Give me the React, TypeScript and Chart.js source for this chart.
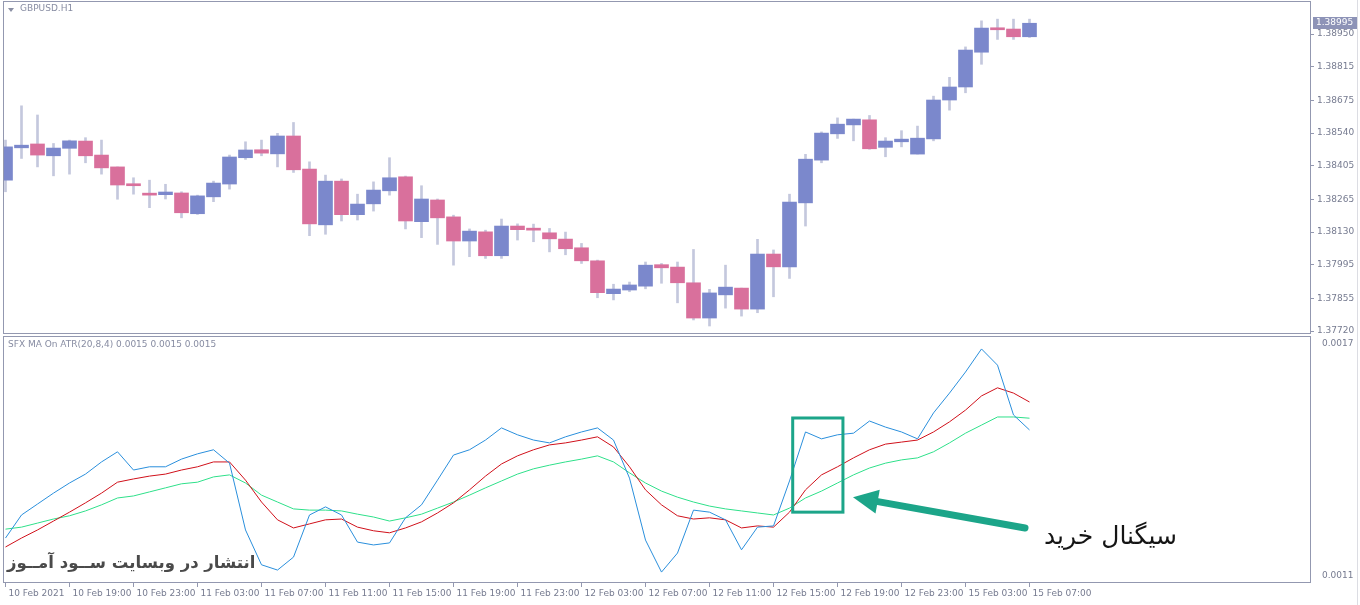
import React, { useEffect, useRef } from "react";
import { Chart, registerables } from "chart.js";

Chart.register(...registerables);

const symbolTitle = "GBPUSD.H1";
const indicatorTitle = "SFX MA On ATR(20,8,4) 0.0015 0.0015 0.0015";
const signalText = "سیگنال خرید";
const watermarkText = "انتشار در وبسایت ســود آمــوز";

const timeLabels = [
  "10 Feb 2021", "10 Feb 19:00", "10 Feb 23:00", "11 Feb 03:00", "11 Feb 07:00",
  "11 Feb 11:00", "11 Feb 15:00", "11 Feb 19:00", "11 Feb 23:00", "12 Feb 03:00",
  "12 Feb 07:00", "12 Feb 11:00", "12 Feb 15:00", "12 Feb 19:00", "12 Feb 23:00",
  "15 Feb 03:00", "15 Feb 07:00",
];

const opens = [
  1.38345, 1.38479, 1.38495, 1.38446, 1.38477, 1.38507, 1.38449, 1.38400, 1.38330, 1.38289,
  1.38285, 1.38292, 1.38206, 1.38276, 1.38329, 1.38438, 1.38471, 1.38454, 1.38528, 1.38391,
  1.38160, 1.38341, 1.38202, 1.38247, 1.38301, 1.38359, 1.38173, 1.38263, 1.38193, 1.38093,
  1.38131, 1.38032, 1.38155, 1.38146, 1.38127, 1.38101, 1.38065, 1.38011, 1.37875, 1.37890,
  1.37906, 1.37995, 1.37985, 1.37920, 1.37774, 1.37870, 1.37898, 1.37811, 1.38039, 1.37986,
  1.38251, 1.38428, 1.38537, 1.38574, 1.38595, 1.38481, 1.38504, 1.38453, 1.38516, 1.38677,
  1.38731, 1.38875, 1.38975, 1.38971, 1.38939,
];
const highs = [
  1.38511, 1.38653, 1.38615, 1.38497, 1.38511, 1.38521, 1.38511, 1.38400, 1.38355, 1.38345,
  1.38328, 1.38297, 1.38283, 1.38341, 1.38449, 1.38504, 1.38511, 1.38539, 1.38584, 1.38421,
  1.38366, 1.38350, 1.38287, 1.38338, 1.38438, 1.38362, 1.38322, 1.38267, 1.38200, 1.38143,
  1.38138, 1.38184, 1.38164, 1.38163, 1.38145, 1.38130, 1.38083, 1.38014, 1.37914, 1.37923,
  1.38006, 1.38000, 1.38006, 1.38058, 1.37893, 1.37993, 1.37898, 1.38100, 1.38056, 1.38287,
  1.38452, 1.38545, 1.38603, 1.38598, 1.38613, 1.38521, 1.38550, 1.38569, 1.38693, 1.38771,
  1.38897, 1.39005, 1.39012, 1.39012, 1.39012,
];
const lows = [
  1.38297, 1.38435, 1.38400, 1.38363, 1.38370, 1.38417, 1.38370, 1.38266, 1.38287, 1.38231,
  1.38267, 1.38189, 1.38203, 1.38256, 1.38308, 1.38431, 1.38446, 1.38400, 1.38377, 1.38115,
  1.38121, 1.38176, 1.38180, 1.38217, 1.38283, 1.38143, 1.38107, 1.38079, 1.37993, 1.38028,
  1.38021, 1.38021, 1.38097, 1.38090, 1.38048, 1.38036, 1.38000, 1.37858, 1.37849, 1.37883,
  1.37895, 1.37918, 1.37837, 1.37766, 1.37741, 1.37815, 1.37782, 1.37796, 1.37862, 1.37938,
  1.38155, 1.38417, 1.38518, 1.38508, 1.38473, 1.38442, 1.38483, 1.38453, 1.38508, 1.38635,
  1.38707, 1.38825, 1.38928, 1.38928, 1.38936,
];
const closes = [
  1.38483, 1.38490, 1.38449, 1.38478, 1.38508, 1.38446, 1.38396, 1.38325, 1.38322, 1.38283,
  1.38296, 1.38210, 1.38280, 1.38333, 1.38441, 1.38470, 1.38457, 1.38528, 1.38388, 1.38164,
  1.38341, 1.38202, 1.38246, 1.38304, 1.38355, 1.38176, 1.38267, 1.38189, 1.38093, 1.38134,
  1.38032, 1.38155, 1.38140, 1.38138, 1.38102, 1.38061, 1.38011, 1.37879, 1.37894, 1.37911,
  1.37993, 1.37982, 1.37920, 1.37774, 1.37878, 1.37902, 1.37811, 1.38039, 1.37986, 1.38254,
  1.38432, 1.38540, 1.38577, 1.38598, 1.38475, 1.38507, 1.38515, 1.38519, 1.38677, 1.38731,
  1.38884, 1.38975, 1.38968, 1.38939, 1.38995,
];

const priceTicks = [1.3772, 1.37855, 1.37995, 1.3813, 1.38265, 1.38405, 1.3854, 1.38675, 1.38815, 1.3895];

const atrLine = [
  0.001206, 0.001263, 0.00129, 0.001317, 0.001342, 0.001364, 0.001394, 0.001419, 0.001374, 0.001382,
  0.001382, 0.001401, 0.001414, 0.001424, 0.001391, 0.001226, 0.00114, 0.001127, 0.001159, 0.001263,
  0.001283, 0.001263, 0.001196, 0.001189, 0.001194, 0.001256, 0.001288, 0.001349, 0.001411, 0.001424,
  0.001448, 0.001478, 0.001461, 0.001448, 0.001441, 0.001456, 0.001468, 0.001478, 0.001448, 0.001354,
  0.001201, 0.001122, 0.001169, 0.001275, 0.00127, 0.001251, 0.001177, 0.001233, 0.001236, 0.001347,
  0.001468, 0.001451, 0.001461, 0.001465, 0.001495, 0.00148, 0.001468, 0.001451, 0.001515, 0.001564,
  0.001616, 0.001673, 0.001633, 0.00151, 0.001473,
];
const maFast = [
  0.001184, 0.001206, 0.001226, 0.001248, 0.00127, 0.001293, 0.001317, 0.001344, 0.001352, 0.001359,
  0.001364, 0.001374, 0.001382, 0.001394, 0.001394, 0.001349, 0.001295, 0.001251, 0.001231, 0.001241,
  0.001251, 0.001253, 0.001233, 0.001224, 0.001219, 0.001231, 0.001246, 0.001268, 0.001293, 0.001325,
  0.001359, 0.001389, 0.001409, 0.001424, 0.001436, 0.001441, 0.001448, 0.001456, 0.001431, 0.001382,
  0.001325, 0.001288, 0.001261, 0.001253, 0.001256, 0.001251, 0.001231, 0.001236, 0.001233, 0.00127,
  0.001325, 0.001362, 0.001382, 0.001404, 0.001424, 0.001438, 0.001443, 0.001448, 0.001468, 0.001493,
  0.001522, 0.001557, 0.001577, 0.001564, 0.001542,
];
const maSlow = [
  0.001228, 0.001233, 0.001243, 0.001253, 0.001261, 0.001273, 0.001288, 0.001305, 0.00131, 0.00132,
  0.00133, 0.00134, 0.001344, 0.001357, 0.001362, 0.001342, 0.001312, 0.001295, 0.001278, 0.001275,
  0.001275, 0.001273, 0.001265, 0.001258, 0.001248, 0.001256, 0.001265, 0.00128, 0.001295, 0.001312,
  0.00133, 0.001347, 0.001364, 0.001377, 0.001386, 0.001394, 0.001401, 0.001409, 0.001394, 0.001367,
  0.001342, 0.001322, 0.001307, 0.001295, 0.001285, 0.001278, 0.001273, 0.001268, 0.001263, 0.00128,
  0.001305, 0.001322, 0.001342, 0.001362, 0.001379, 0.001391, 0.001399, 0.001404, 0.001419, 0.001441,
  0.001465, 0.001485, 0.001505, 0.001505, 0.001502,
];
const indicatorTicks = [0.0011123, 0.0016852];

// annotation anchors, in bar-index / indicator-value units
const signalBox = { fromIndex: 49.2, toIndex: 52.34, top: 0.0015025, bottom: 0.00127 };
const signalArrow = { tailIndex: 63.72, tailValue: 0.001231, tipIndex: 52.97, tipValue: 0.001307 };

const X_MIN = -0.09375;
const X_MAX = 81.53125;
const P_MIN = 1.37712;
const P_MAX = 1.39083;
const I_MIN = 0.0010975;
const I_MAX = 0.0017025;

const FONT = "'DejaVu Sans', Tahoma, sans-serif";
const AXIS_COLOR = "#9398b0";
const TEXT_COLOR = "#767b90";
const BULL = "#7b88cc";
const BEAR = "#d9709c";
const WICK = "#c4c8dd";
const TEAL = "#1ca589";

const noPad = (s: any) => {
  s.paddingTop = 0;
  s.paddingBottom = 0;
  s.paddingLeft = 0;
  s.paddingRight = 0;
};

const framePlugin = {
  id: "frame",
  afterDraw(chart: any) {
    const { ctx, chartArea } = chart;
    ctx.save();
    ctx.strokeStyle = AXIS_COLOR;
    ctx.lineWidth = 1;
    ctx.strokeRect(
      Math.round(chartArea.left) - 0.5,
      Math.round(chartArea.top) - 0.5,
      Math.round(chartArea.right - chartArea.left) + 1,
      Math.round(chartArea.bottom - chartArea.top) + 1
    );
    ctx.restore();
  },
};

const lastPricePlugin = {
  id: "lastPrice",
  afterDraw(chart: any) {
    const { ctx, chartArea } = chart;
    const last = closes[closes.length - 1];
    const py = Math.round(chart.scales.y.getPixelForValue(last));
    ctx.save();
    ctx.fillStyle = "#8d93b7";
    ctx.fillRect(chartArea.right + 3, py - 6, 44, 12);
    ctx.fillStyle = "#ffffff";
    ctx.font = `9px ${FONT}`;
    ctx.textBaseline = "middle";
    ctx.fillText(last.toFixed(5), chartArea.right + 6, py);
    ctx.restore();
  },
};

const annotationPlugin = {
  id: "signal",
  afterDatasetsDraw(chart: any) {
    const { ctx } = chart;
    const xs = chart.scales.x;
    const ys = chart.scales.y;
    ctx.save();
    const x1 = xs.getPixelForValue(signalBox.fromIndex);
    const x2 = xs.getPixelForValue(signalBox.toIndex);
    const y1 = ys.getPixelForValue(signalBox.top);
    const y2 = ys.getPixelForValue(signalBox.bottom);
    ctx.strokeStyle = TEAL;
    ctx.lineWidth = 3;
    ctx.strokeRect(x1, y1, x2 - x1, y2 - y1);

    const tx = xs.getPixelForValue(signalArrow.tailIndex);
    const ty = ys.getPixelForValue(signalArrow.tailValue);
    const px = xs.getPixelForValue(signalArrow.tipIndex);
    const py = ys.getPixelForValue(signalArrow.tipValue);
    const ang = Math.atan2(py - ty, px - tx);
    const headLen = 25;
    const headW = 24;
    const bx = px - headLen * Math.cos(ang);
    const by = py - headLen * Math.sin(ang);
    ctx.strokeStyle = TEAL;
    ctx.fillStyle = TEAL;
    ctx.lineWidth = 7;
    ctx.lineCap = "round";
    ctx.beginPath();
    ctx.moveTo(tx, ty);
    ctx.lineTo(bx + 4 * Math.cos(ang), by + 4 * Math.sin(ang));
    ctx.stroke();
    const nx = -Math.sin(ang);
    const ny = Math.cos(ang);
    ctx.beginPath();
    ctx.moveTo(px, py);
    ctx.lineTo(bx + (nx * headW) / 2, by + (ny * headW) / 2);
    ctx.lineTo(bx - (nx * headW) / 2, by - (ny * headW) / 2);
    ctx.closePath();
    ctx.fill();
    ctx.restore();
  },
};

export default function App() {
  const topRef = useRef<HTMLCanvasElement | null>(null);
  const botRef = useRef<HTMLCanvasElement | null>(null);

  useEffect(() => {
    document.body.style.margin = "0";
    const idx = closes.map((_, i) => i);
    const bodyColors = idx.map((i) => (closes[i] >= opens[i] ? BULL : BEAR));

    const top = new Chart(topRef.current as HTMLCanvasElement, {
      type: "bar",
      data: {
        datasets: [
          {
            label: "body",
            data: idx.map((i) => ({ x: i, y: [opens[i], closes[i]] })) as any,
            backgroundColor: bodyColors,
            borderWidth: 0,
            barThickness: 14,
            minBarLength: 2,
            grouped: false,
            order: 0,
          } as any,
          {
            label: "wick",
            data: idx.map((i) => ({ x: i, y: [lows[i], highs[i]] })) as any,
            backgroundColor: WICK,
            borderWidth: 0,
            barThickness: 2,
            grouped: false,
            order: 1,
          } as any,
        ],
      },
      options: {
        responsive: false,
        animation: false,
        events: [],
        layout: { padding: { left: 4, top: 2, right: 0, bottom: 1 } },
        plugins: { legend: { display: false }, tooltip: { enabled: false } },
        scales: {
          x: { type: "linear", min: X_MIN, max: X_MAX, offset: false, display: false },
          y: {
            type: "linear",
            position: "right",
            min: P_MIN,
            max: P_MAX,
            bounds: "data",
            beginAtZero: false,
            afterFit: (s: any) => { s.width = 50; noPad(s); },
            afterBuildTicks: (s: any) => { s.ticks = priceTicks.map((v) => ({ value: v })); },
            ticks: {
              autoSkip: false,
              callback: (v: any) => Number(v).toFixed(5),
              font: { family: FONT, size: 9 },
              color: TEXT_COLOR,
              padding: 3,
            },
            grid: { drawOnChartArea: false, tickLength: 4, color: AXIS_COLOR },
            border: { color: AXIS_COLOR },
          },
        },
      } as any,
      plugins: [framePlugin, lastPricePlugin],
    });

    const bottom = new Chart(botRef.current as HTMLCanvasElement, {
      type: "line",
      data: {
        datasets: [
          {
            label: "ATR",
            data: idx.map((i) => ({ x: i, y: atrLine[i] })),
            borderColor: "#2a8fdc",
            borderWidth: 1,
            pointRadius: 0,
            tension: 0,
          },
          {
            label: "MA fast",
            data: idx.map((i) => ({ x: i, y: maFast[i] })),
            borderColor: "#d0101a",
            borderWidth: 1,
            pointRadius: 0,
            tension: 0,
          },
          {
            label: "MA slow",
            data: idx.map((i) => ({ x: i, y: maSlow[i] })),
            borderColor: "#2ee08a",
            borderWidth: 1,
            pointRadius: 0,
            tension: 0,
          },
        ],
      },
      options: {
        responsive: false,
        animation: false,
        events: [],
        layout: { padding: { left: 4, top: 3, right: 0, bottom: 0 } },
        plugins: { legend: { display: false }, tooltip: { enabled: false } },
        scales: {
          x: {
            type: "linear",
            min: X_MIN,
            max: X_MAX,
            offset: false,
            afterFit: (s: any) => { s.height = 23; noPad(s); },
            afterBuildTicks: (s: any) => { s.ticks = timeLabels.map((_, k) => ({ value: k * 4 })); },
            ticks: {
              autoSkip: false,
              maxRotation: 0,
              align: "start",
              labelOffset: 3,
              padding: 1,
              callback: (v: any) => timeLabels[Math.round(Number(v) / 4)],
              font: { family: FONT, size: 9 },
              color: TEXT_COLOR,
            },
            grid: { drawOnChartArea: false, tickLength: 5, color: AXIS_COLOR },
            border: { color: AXIS_COLOR },
          },
          y: {
            type: "linear",
            position: "right",
            min: I_MIN,
            max: I_MAX,
            bounds: "data",
            afterFit: (s: any) => { s.width = 50; noPad(s); },
            afterBuildTicks: (s: any) => { s.ticks = indicatorTicks.map((v) => ({ value: v })); },
            ticks: {
              autoSkip: false,
              callback: (v: any) => Number(v).toFixed(4),
              font: { family: FONT, size: 9 },
              color: TEXT_COLOR,
              padding: 4,
            },
            grid: { display: false },
            border: { color: AXIS_COLOR },
          },
        },
      } as any,
      plugins: [framePlugin, annotationPlugin],
    });

    return () => {
      top.destroy();
      bottom.destroy();
    };
  }, []);

  return (
    <div style={{ position: "relative", width: 1360, height: 605, background: "#ffffff", overflow: "hidden" }}>
      <canvas ref={topRef} width={1360} height={334} style={{ position: "absolute", left: 0, top: 0 }} />
      <canvas ref={botRef} width={1360} height={271} style={{ position: "absolute", left: 0, top: 334 }} />
      <div style={{ position: "absolute", left: 1357, top: 0, width: 1, height: 605, background: "#dcdde3" }} />
      <div style={{ position: "absolute", left: 8, top: 8, width: 0, height: 0, borderLeft: "3px solid transparent", borderRight: "3px solid transparent", borderTop: "4px solid #8a8fa4" }} />
      <div style={{ position: "absolute", left: 20, top: 3, font: `9px ${FONT}`, color: "#878ca2", whiteSpace: "nowrap" }}>{symbolTitle}</div>
      <div style={{ position: "absolute", left: 8, top: 339, font: `9px ${FONT}`, color: "#878ca2", whiteSpace: "nowrap" }}>{indicatorTitle}</div>
      <div style={{ position: "absolute", left: 1044, top: 521, font: `25px ${FONT}`, color: "#151515", whiteSpace: "nowrap", direction: "rtl" }}>{signalText}</div>
      <div style={{ position: "absolute", left: 7, top: 553, font: `bold 16.5px ${FONT}`, color: "#4a4a4a", whiteSpace: "nowrap", direction: "rtl" }}>{watermarkText}</div>
    </div>
  );
}
